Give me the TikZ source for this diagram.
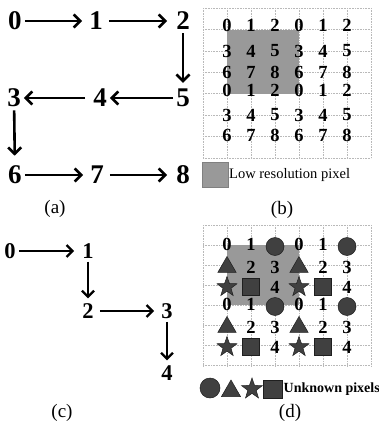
\documentclass[tikz,border=0pt]{standalone}
\usepackage{fontspec}
\newfontfamily\tf{Liberation Serif}
\usetikzlibrary{arrows.meta,shapes.geometric}
\definecolor{symfill}{gray}{0.25}
\definecolor{symline}{gray}{0.12}
\definecolor{lowres}{gray}{0.6}
\begin{document}
\begin{tikzpicture}[x=1pt,y=-1pt,
  bigd/.style={font=\tf\fontsize{27}{27}\selectfont\bfseries, inner sep=3pt},
  midd/.style={font=\tf\fontsize{22.5}{22.5}\selectfont\bfseries, inner sep=3pt},
  gd/.style={font=\tf\fontsize{18.5}{18.5}\selectfont\bfseries, inner sep=0pt},
  arr/.style={line width=2.6pt, -{Straight Barb[length=6.5pt,width=13pt]}},
  arrs/.style={line width=2.3pt, -{Straight Barb[length=6pt,width=12pt]}},
  gl/.style={gray!55, densely dotted, line width=0.6pt},
  lbl/.style={font=\tf\fontsize{19}{19}\selectfont, inner sep=0pt},
  legtext/.style={font=\tf\fontsize{14.5}{14.5}\selectfont, inner sep=0pt, anchor=west},
  sym/.style={fill=symfill, draw=symline, line width=0.5pt, inner sep=0pt},
  symcirc/.style={sym, circle, minimum size=18pt},
  symtri/.style={sym, regular polygon, regular polygon sides=3, minimum size=21pt},
  symstar/.style={sym, star, star points=5, star point ratio=2.5, minimum size=21pt},
  symsq/.style={sym, rectangle, minimum size=17pt},
]
\useasboundingbox (0,0) rectangle (379,425);

% ---------- (a)
\node[bigd] (a0) at (15,21) {0};
\node[bigd] (a1) at (96,21) {1};
\node[bigd] (a2) at (183,21) {2};
\node[bigd] (a3) at (14,98) {3};
\node[bigd] (a4) at (100,98) {4};
\node[bigd] (a5) at (183,98) {5};
\node[bigd] (a6) at (15,175) {6};
\node[bigd] (a7) at (97,175) {7};
\node[bigd] (a8) at (183,175) {8};
\draw[arr, shorten >=4pt] (a0) -- (a1);
\draw[arr, shorten <=3pt, shorten >=6pt] (a1) -- (a2);
\draw[arr, shorten >=3pt] (a2) -- (a5);
\draw[arr] (a5) -- (a4);
\draw[arr, shorten <=5pt] (a4) -- (a3);
\draw[arr, shorten >=7pt] (a3) -- (a6);
\draw[arr, shorten >=4pt] (a6) -- (a7);
\draw[arr, shorten <=3pt, shorten >=6pt] (a7) -- (a8);
\node[lbl] (la) at (55,209) {(a)};

% ---------- (b)
\foreach \i in {0,...,7} {
  \draw[gl] ({203+24*\i},8) -- ({203+24*\i},158);
  \draw[gl] (203,{8+21.43*\i}) -- (371,{8+21.43*\i});
}
\fill[lowres] (227,30) rectangle (299,94);
\foreach \y [count=\r from 0] in {25,51,72,90,115,135} {
  \foreach \c in {0,...,5} {
    \pgfmathtruncatemacro{\v}{3*mod(\r,3)+mod(\c,3)}
    \node[gd] (b-\r-\c) at ({227+24*\c},\y) {\v};
  }
}
\node[draw=black!50, fill=lowres, minimum width=26pt, minimum height=25pt, inner sep=0pt] (bleg) at (215,174.5) {};
\node[legtext] (btext) at (229,175) {Low resolution pixel};
\node[lbl] (lb) at (282,210) {(b)};

% ---------- (c)
\node[midd] (c0) at (10,251) {0};
\node[midd] (c1) at (88,251) {1};
\node[midd] (c2) at (88,311) {2};
\node[midd] (c3) at (167,311) {3};
\node[midd] (c4) at (167,373) {4};
\draw[arrs, shorten >=5pt] (c0) -- (c1);
\draw[arrs, shorten >=2pt] (c1) -- (c2);
\draw[arrs, shorten <=3pt, shorten >=4pt] (c2) -- (c3);
\draw[arrs, shorten >=2pt] (c3) -- (c4);
\node[lbl] (lc) at (62,413) {(c)};

% ---------- (d)
\foreach \i in {0,...,7} {
  \draw[gl] ({203+24*\i},225) -- ({203+24*\i},366);
  \draw[gl] (203,{225+20.1*\i}) -- (371,{225+20.1*\i});
}
\fill[lowres] (227,245) rectangle (299,305);
\foreach \y [count=\r from 0] in {244,267,287,304,327,347} {
  \foreach \k in {0,1} {
    \pgfmathsetmacro{\xa}{227+72*\k}
    \pgfmathsetmacro{\xb}{251+72*\k}
    \pgfmathsetmacro{\xc}{275+72*\k}
    \pgfmathtruncatemacro{\m}{mod(\r,3)}
    \ifcase\m
      \node[gd] (d-\r-\k-a) at (\xa,\y) {0};
      \node[gd] (d-\r-\k-b) at (\xb,\y) {1};
      \node[symcirc] (d-\r-\k-c) at (\xc,\y+2.5) {};
    \or
      \node[symtri] (d-\r-\k-a) at (\xa,\y) {};
      \node[gd] (d-\r-\k-b) at (\xb,\y) {2};
      \node[gd] (d-\r-\k-c) at (\xc,\y) {3};
    \or
      \node[symstar] (d-\r-\k-a) at (\xa,\y) {};
      \node[symsq] (d-\r-\k-b) at (\xb,\y) {};
      \node[gd] (d-\r-\k-c) at (\xc,\y) {4};
    \fi
  }
}
\node[symcirc, minimum size=20pt] (lgc) at (210,388) {};
\node[symtri, minimum size=22pt] (lgt) at (231,391) {};
\node[symstar, minimum size=22pt] (lgs) at (252,389) {};
\node[symsq, minimum size=18.5pt] (lgq) at (272.5,389) {};
\node[legtext, font=\tf\bfseries\fontsize{14}{14}\selectfont] (dtext) at (283.5,389) {Unknown pixels};
\node[lbl] (ld) at (290,413) {(d)};
\end{tikzpicture}
\end{document}
